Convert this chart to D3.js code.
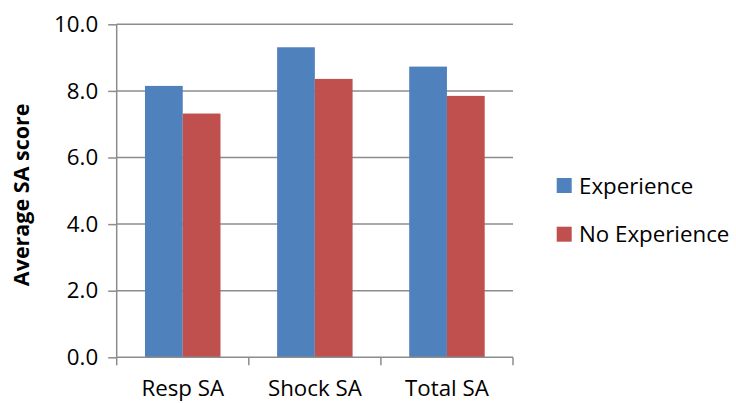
<!DOCTYPE html>
<html><head><meta charset="utf-8">
<script src="https://cdn.jsdelivr.net/npm/d3@7"></script>
<style>body{margin:0;background:#fff}svg{display:block}text{font-family:"Open Sans",sans-serif;fill:#000}</style>
</head><body>
<svg id="c" width="736" height="403"></svg>
<script>
const categories = ["Resp SA", "Shock SA", "Total SA"];
const seriesNames = ["Experience", "No Experience"];
const experience = [8.15, 9.31, 8.73];
const noExperience = [7.32, 8.36, 7.85];
const yTicks = [0, 2, 4, 6, 8, 10];
const colors = ["#4F81BD", "#C0504D"];

const svg = d3.select("#c");
const L = 116.7, R = 513, T = 24.3, B = 357.3;
const FS = 22.3;
const x = d3.scaleBand().domain(categories).range([L, R]).paddingInner(0).paddingOuter(0);
const y = d3.scaleLinear().domain([0, 10]).range([B, T]);
const bw = x.bandwidth() / 3.5;
const xs = d3.scaleBand().domain(seriesNames).range([0, 2 * bw]);
const gridColor = "#8c8c8c";

// gridlines
svg.append("g").selectAll("line").data(yTicks.filter(d => d > 0)).join("line")
  .attr("x1", L).attr("x2", R).attr("y1", d => y(d)).attr("y2", d => y(d))
  .attr("stroke", gridColor).attr("stroke-width", 1.5);

// bars
const series = [experience, noExperience];
const g = svg.append("g");
series.forEach((vals, si) => {
  g.selectAll(null).data(categories).join("rect")
    .attr("x", (c) => x(c) + (x.bandwidth() - 2 * bw) / 2 + xs(seriesNames[si]))
    .attr("width", xs.bandwidth())
    .attr("y", (c, i) => y(vals[i]))
    .attr("height", (c, i) => B - y(vals[i]))
    .attr("fill", colors[si]);
});

// y axis
const ya = svg.append("g").attr("transform", `translate(${L},0)`)
  .call(d3.axisLeft(y).tickValues(yTicks).tickFormat(d3.format(".1f")).tickSize(8.5).tickPadding(10));
ya.select(".domain").attr("stroke", gridColor).attr("stroke-width", 1.5).attr("d", `M0,${T}V${B}`);
ya.selectAll(".tick line").attr("stroke", gridColor).attr("stroke-width", 1.5);
ya.selectAll(".tick text").attr("font-size", FS).attr("font-family", '"Open Sans",sans-serif').attr("fill", "#000");

// x axis
const xa = svg.append("g").attr("transform", `translate(0,${B})`)
  .call(d3.axisBottom(x).tickSize(0).tickPadding(22.5));
xa.select(".domain").attr("stroke", gridColor).attr("stroke-width", 1.5).attr("d", `M${L},0H${R}`);
xa.selectAll(".tick text").attr("font-size", FS).attr("font-family", '"Open Sans",sans-serif').attr("fill", "#000");
const bounds = categories.map(c => x(c)).concat([R]);
xa.selectAll(".sep").data(bounds).join("line").attr("class", "sep")
  .attr("x1", d => d).attr("x2", d => d).attr("y1", 0).attr("y2", 8)
  .attr("stroke", gridColor).attr("stroke-width", 1.5);

// y title
svg.append("text").attr("transform", `translate(29,${(T + B) / 2 + 4}) rotate(-90)`)
  .attr("text-anchor", "middle").attr("font-size", 21.5).attr("font-weight", "bold")
  .text("Average SA score");

// legend
const lg = svg.append("g");
seriesNames.forEach((n, i) => {
  const yy = 178 + i * 48.7;
  lg.append("rect").attr("x", 556.7).attr("y", yy).attr("width", 15).attr("height", 15).attr("fill", colors[i]);
  lg.append("text").attr("x", 579).attr("y", yy + 15.5).attr("font-size", FS).text(n);
});
</script>
</body></html>
